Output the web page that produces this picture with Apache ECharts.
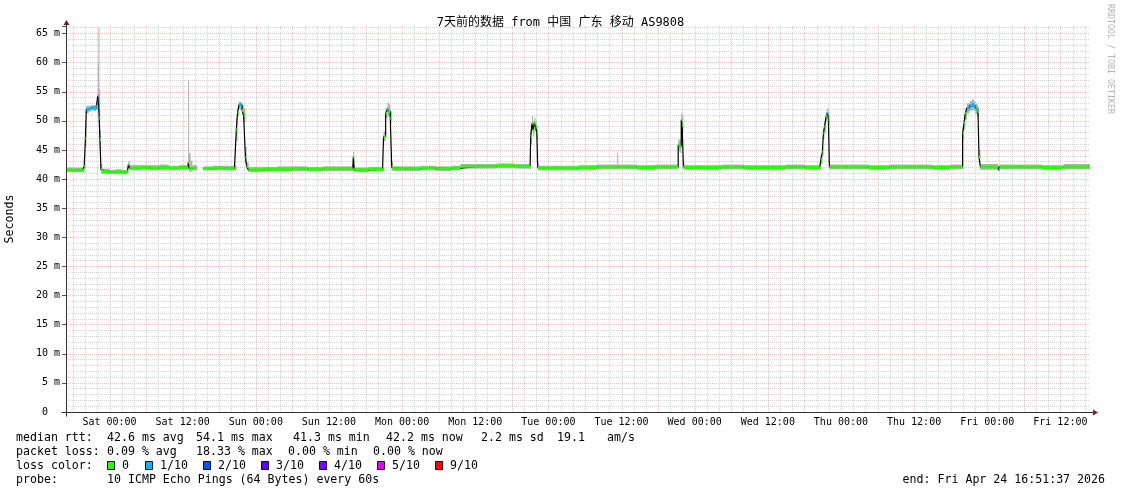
<!DOCTYPE html>
<html><head><meta charset="utf-8">
<script src="https://cdn.jsdelivr.net/npm/echarts@6/dist/echarts.min.js"></script>
<style>html,body{margin:0;padding:0;background:#fff}#c{width:1121px;height:494px}</style>
</head><body><div id="c"></div>
<script>
// time in hours relative to Sat 00:00 (start Fri 16:51:37, end Fri Apr 24 16:51:37)
const startHour = -7.1397, endHour = 160.8603, yMax = 66.3;
const hours = [
 -7.14,-6.2,-5.3,-4.4,-4.15,-3.95,-3.8,-3.4,-3.0,-2.6,
 -2.2,-2.0,-1.92,-1.82,-1.7,-1.58,-1.4,-1.2,0.0,1.0,
 2.0,2.9,3.1,3.3,5.0,6.6,8.2,9.8,11.4,12.9,
 13.05,13.3,13.6,14.35,15.4,17.0,18.8,20.5,20.8,21.0,
 21.25,21.55,21.75,22.0,22.3,22.5,22.8,25.0,27.5,30.0,
 32.5,35.0,37.5,39.9,40.0,40.15,42.5,44.8,44.96,45.3,
 45.6,45.85,46.06,46.3,46.5,48.5,51.0,53.5,56.0,57.6,
 60.5,63.5,66.5,69.0,69.1,69.3,69.5,69.7,69.9,70.1,
 70.25,70.45,72.0,74.5,77.0,80.0,83.3,83.45,86.5,89.5,
 93.3,93.55,93.8,93.95,94.15,94.35,97.0,100.5,104.0,107.5,
 111.0,114.0,116.5,116.7,116.95,117.13,117.3,117.57,117.79,117.95,
 118.1,118.3,121.0,124.5,128.0,131.5,135.0,138.0,139.96,140.2,
 140.4,140.68,141.1,141.5,141.8,142.04,142.32,142.48,142.65,142.87,
 145.8,146.0,149.5,153.0,156.5,160.86];
const median = [
 41.6,41.5,41.6,41.5,42.2,47.0,52.0,52.1,52.3,52.2,
 52.5,52.3,54.3,53.5,50.5,46.8,41.6,41.3,41.2,41.3,
 41.2,41.4,42.5,41.9,42.0,41.9,42.0,41.9,42.0,42.9,
 41.8,41.9,41.9,null,41.8,41.9,41.8,41.9,48.5,51.4,
 52.8,52.7,51.8,51.0,43.7,42.2,41.6,41.7,41.7,41.8,
 41.7,41.8,41.8,41.7,43.8,41.6,41.7,41.7,47.3,51.3,
 51.9,51.6,50.5,42.0,41.8,41.8,41.9,41.8,41.9,42.2,
 42.2,42.3,42.2,42.1,47.3,49.6,48.4,49.6,49.0,48.0,
 42.0,41.9,41.9,41.9,42.0,42.1,42.1,42.1,42.0,42.1,
 45.9,45.6,50.2,49.3,42.1,42.0,42.0,42.1,42.0,42.0,
 42.1,42.0,42.0,43.3,44.7,47.9,49.0,50.8,51.3,50.2,
 42.1,42.1,42.1,42.0,42.1,42.1,42.0,42.1,47.9,49.6,
 51.3,52.2,52.6,52.8,52.6,52.2,51.9,51.6,43.8,42.1,
 41.7,42.1,42.1,42.0,42.1,42.2];
const smokeLow = [
 41.2,41.2,41.2,41.1,41.6,45.5,51.3,51.6,51.8,51.7,
 51.9,51.6,52.5,51.5,48.0,45.0,41.0,40.9,40.9,40.9,
 40.8,41.0,41.9,41.5,41.6,41.5,41.6,41.5,41.6,41.9,
 41.2,41.3,41.5,null,41.5,41.5,41.5,41.5,46.5,50.8,
 52.0,51.9,50.9,49.8,42.8,41.6,41.2,41.3,41.3,41.4,
 41.3,41.4,41.4,41.3,42.0,41.2,41.3,41.3,46.5,50.5,
 50.8,50.6,49.5,41.5,41.4,41.4,41.5,41.4,41.5,41.8,
 41.8,41.9,41.8,41.7,46.0,48.3,47.3,48.3,47.8,46.8,
 41.5,41.5,41.5,41.5,41.6,41.7,41.6,41.7,41.6,41.7,
 44.8,44.5,48.9,48.0,41.6,41.6,41.6,41.7,41.6,41.6,
 41.7,41.6,41.6,42.5,43.8,46.9,48.0,49.9,50.4,49.3,
 41.6,41.7,41.7,41.6,41.7,41.7,41.6,41.7,46.8,48.5,
 50.2,51.3,51.7,51.9,51.7,51.2,50.8,50.5,42.8,41.6,
 41.4,41.7,41.7,41.6,41.7,41.8];
const smokeHigh = [
 42.0,42.0,42.0,41.9,42.6,50.0,52.6,52.6,52.7,52.7,
 53.1,53.0,60.2,66.0,55.5,48.5,42.6,41.8,41.6,41.7,
 41.6,41.9,43.1,42.4,42.4,42.4,42.5,42.3,42.4,57.0,
 44.5,43.2,42.4,null,42.2,42.3,42.3,42.4,50.5,52.2,
 53.3,53.2,52.8,52.2,45.5,42.9,42.1,42.1,42.2,42.2,
 42.1,42.2,42.2,42.1,44.7,42.0,42.1,42.1,48.2,52.3,
 53.1,52.8,51.6,43.0,42.2,42.2,42.3,42.2,42.3,42.6,
 42.6,42.7,42.6,42.5,48.5,50.9,50.0,50.5,50.0,49.2,
 42.6,42.3,42.3,42.3,42.4,42.5,44.5,42.5,42.4,42.5,
 46.8,46.8,51.4,51.0,42.8,42.4,42.4,42.5,42.4,42.4,
 42.5,42.4,42.4,44.0,45.5,48.8,49.9,51.6,52.3,51.2,
 42.6,42.5,42.5,42.4,42.5,42.5,42.4,42.5,49.0,50.8,
 52.3,53.0,53.4,53.7,53.4,53.0,52.8,52.4,45.0,42.6,
 42.0,42.5,42.5,42.4,42.6,42.6];
const lossIdx = [
 0,0,0,0,0,0,1,1,1,1,
 1,1,1,1,1,0,0,0,0,0,
 0,0,0,0,0,0,0,0,0,0,
 0,0,0,null,0,0,0,0,0,0,
 1,1,0,0,0,0,0,0,0,0,
 0,0,0,0,0,0,0,0,0,0,
 1,0,0,0,0,0,0,0,0,0,
 0,0,0,0,0,0,0,0,0,0,
 0,0,0,0,0,0,0,0,0,0,
 0,0,0,0,0,0,0,0,0,0,
 0,0,0,0,0,0,0,0,1,0,
 0,0,0,0,0,0,0,0,0,0,
 0,1,1,1,1,1,0,0,0,0,
 2,0,0,0,0,0];
const lossColors = ['#26ff00','#00b8ff','#0059ff','#5e00ff','#7e00ff','#dd00ff','#ff0000'];
const lossLabels = ['0','1/10','2/10','3/10','4/10','5/10','9/10'];
const tickHours = [0,12,24,36,48,60,72,84,96,108,120,132,144,156];
const tickLabels = ['Sat 00:00','Sat 12:00','Sun 00:00','Sun 12:00','Mon 00:00','Mon 12:00','Tue 00:00','Tue 12:00','Wed 00:00','Wed 12:00','Thu 00:00','Thu 12:00','Fri 00:00','Fri 12:00'];
const titleText = '7天前的数据 from 中国 广东 移动 AS9808';
const rttLine = ['42.6 ms avg','54.1 ms max','41.3 ms min','42.2 ms now','2.2 ms sd','19.1','am/s'];
const lossLine = ['0.09 % avg','18.33 % max','0.00 % min','0.00 % now'];
const probeText = '10 ICMP Echo Pings (64 Bytes) every 60s';
const endText = 'end: Fri Apr 24 16:51:37 2026';

const MONO = "'DejaVu Sans Mono', 'Noto Sans CJK SC', monospace";
const MAJOR = 'rgba(255,40,40,0.32)', MINOR = 'rgba(120,120,120,0.32)';
const chart = echarts.init(document.getElementById('c'));

const smokeSegs = [], lossSegs = [];
for (let i = 0; i < hours.length - 1; i++) {
  if (median[i] == null) continue;
  smokeSegs.push([hours[i], hours[i + 1], smokeLow[i], smokeHigh[i]]);
  lossSegs.push([hours[i], hours[i + 1], median[i], lossIdx[i]]);
}
const medianPts = hours.map((t, i) => [t, median[i] == null ? '-' : median[i]]);

chart.setOption({
  animation: false,
  backgroundColor: '#ffffff',
  title: { text: titleText, left: 'center', top: 12,
    textStyle: { fontFamily: MONO, fontSize: 12, fontWeight: 'normal', color: '#000' } },
  grid: { left: 66, top: 26, width: 1024, height: 386 },
  xAxis: {
    type: 'value', min: startHour, max: endHour,
    axisLine: { show: false, onZero: false }, axisTick: { show: false }, splitLine: { show: false },
    axisLabel: { customValues: tickHours, margin: 5, fontFamily: MONO, fontSize: 10, color: '#000',
      formatter: v => { const k = tickHours.indexOf(Math.round(v)); return k >= 0 ? tickLabels[k] : ''; } }
  },
  yAxis: {
    type: 'value', min: 0, max: yMax, interval: 5,
    axisLine: { show: false, onZero: false },
    axisTick: { show: true, length: 4, lineStyle: { color: '#555' } },
    axisLabel: { margin: 6, fontFamily: MONO, fontSize: 10, color: '#000',
      formatter: v => (Math.abs(v % 5) > 1e-6 ? '' : (v === 0 ? '0  ' : v + ' m')) },
    splitLine: { show: true, showMinLine: false, showMaxLine: false,
      lineStyle: { color: MAJOR, type: [1, 1], width: 1 } },
    minorTick: { show: false, splitNumber: 5 },
    minorSplitLine: { show: true, lineStyle: { color: MINOR, type: [1, 1], width: 1 } }
  },
  series: [
    { type: 'custom', silent: true, z: 3, clip: true, data: smokeSegs,
      dimensions: ['t0', 't1', 'lo', 'hi'], encode: { x: [0, 1], y: [2, 3] },
      renderItem: (p, api) => {
        const a = api.coord([api.value(0), api.value(3)]);
        const b = api.coord([api.value(1), api.value(2)]);
        return { type: 'rect', shape: { x: a[0], y: a[1], width: Math.max(b[0] - a[0], 1), height: Math.max(b[1] - a[1], 1) },
          style: { fill: '#b0b0b0' } };
      } },
    { type: 'line', silent: true, z: 4, step: 'end', symbol: 'none', data: medianPts,
      lineStyle: { color: '#000', width: 1.2 } },
    { type: 'custom', silent: true, z: 5, clip: true, data: lossSegs,
      dimensions: ['t0', 't1', 'v', 'loss'], encode: { x: [0, 1], y: 2 },
      renderItem: (p, api) => {
        const a = api.coord([api.value(0), api.value(2)]);
        const b = api.coord([api.value(1), api.value(2)]);
        return { type: 'line', shape: { x1: a[0], y1: a[1], x2: Math.max(b[0], a[0] + 1), y2: a[1] },
          style: { stroke: lossColors[api.value(3)], lineWidth: 3, lineCap: 'butt' } };
      } }
  ]
});

const bl = chart.convertToPixel({ gridIndex: 0 }, [startHour, 0]);
const tr = chart.convertToPixel({ gridIndex: 0 }, [endHour, yMax]);
const L = Math.round(bl[0]) + 0.5, B = Math.round(bl[1]) + 0.5, R = tr[0], T = tr[1];
const g = [];
// vertical grid: minor every 2 h, major every 6 h (positions from the x scale)
for (let h = -6; h <= 160; h += 2) {
  const x = Math.round(chart.convertToPixel({ xAxisIndex: 0 }, h)) + 0.5;
  const major = (h % 6 === 0);
  g.push({ type: 'line', z: 0, silent: true, shape: { x1: x, y1: T, x2: x, y2: B - 1 },
    style: { stroke: major ? MAJOR : MINOR, lineWidth: 1, lineDash: [1, 1] } });
}
g.push({ type: 'line', shape: { x1: L - 5, y1: B, x2: R + 3, y2: B }, style: { stroke: '#333', lineWidth: 1 }, z: 100 });
g.push({ type: 'polygon', shape: { points: [[R + 3, B - 3], [R + 8, B], [R + 3, B + 3]] }, style: { fill: '#7f1d1d' }, z: 100 });
g.push({ type: 'line', shape: { x1: L, y1: B + 4, x2: L, y2: T - 2 }, style: { stroke: '#333', lineWidth: 1 }, z: 100 });
g.push({ type: 'polygon', shape: { points: [[L - 3, T - 1], [L, T - 6], [L + 3, T - 1]] }, style: { fill: '#7f1d1d' }, z: 100 });
const FONT = '11.6px ' + MONO;
const txt = (x, y, s, align) => ({ type: 'text', x: x, y: y, z: 100,
  style: { text: s, font: FONT, fill: '#000', textAlign: align || 'left', textVerticalAlign: 'middle' } });
g.push({ type: 'text', x: 10, y: 219, rotation: Math.PI / 2, z: 100,
  style: { text: 'Seconds', font: FONT, fill: '#000', textAlign: 'center', textVerticalAlign: 'middle' } });
g.push({ type: 'text', x: 1110, y: 59, rotation: -Math.PI / 2, z: 100,
  style: { text: 'RRDTOOL / TOBI OETIKER', font: '8.3px ' + MONO, fill: '#b4b4b4', textAlign: 'center', textVerticalAlign: 'middle' } });
const rowY = [438, 452, 466, 480];
g.push(txt(16, rowY[0], 'median rtt:'));
const rttX = [107, 196, 293, 386, 481, 557, 607];
rttLine.forEach((s, i) => g.push(txt(rttX[i], rowY[0], s)));
g.push(txt(16, rowY[1], 'packet loss:'));
const lossX = [107, 196, 288, 373];
lossLine.forEach((s, i) => g.push(txt(lossX[i], rowY[1], s)));
g.push(txt(16, rowY[2], 'loss color:'));
const sqX = [107, 145, 203, 261, 319, 377, 435];
lossLabels.forEach((s, i) => {
  g.push({ type: 'rect', z: 100, shape: { x: sqX[i] + 0.5, y: rowY[2] - 4.5, width: 7, height: 8 },
    style: { fill: lossColors[i], stroke: '#000', lineWidth: 1 } });
  g.push(txt(sqX[i] + 15, rowY[2], s));
});
g.push(txt(16, rowY[3], 'probe:'));
g.push(txt(107, rowY[3], probeText));
g.push(txt(1105, rowY[3], endText, 'right'));
chart.setOption({ graphic: { elements: g } });
</script></body></html>
